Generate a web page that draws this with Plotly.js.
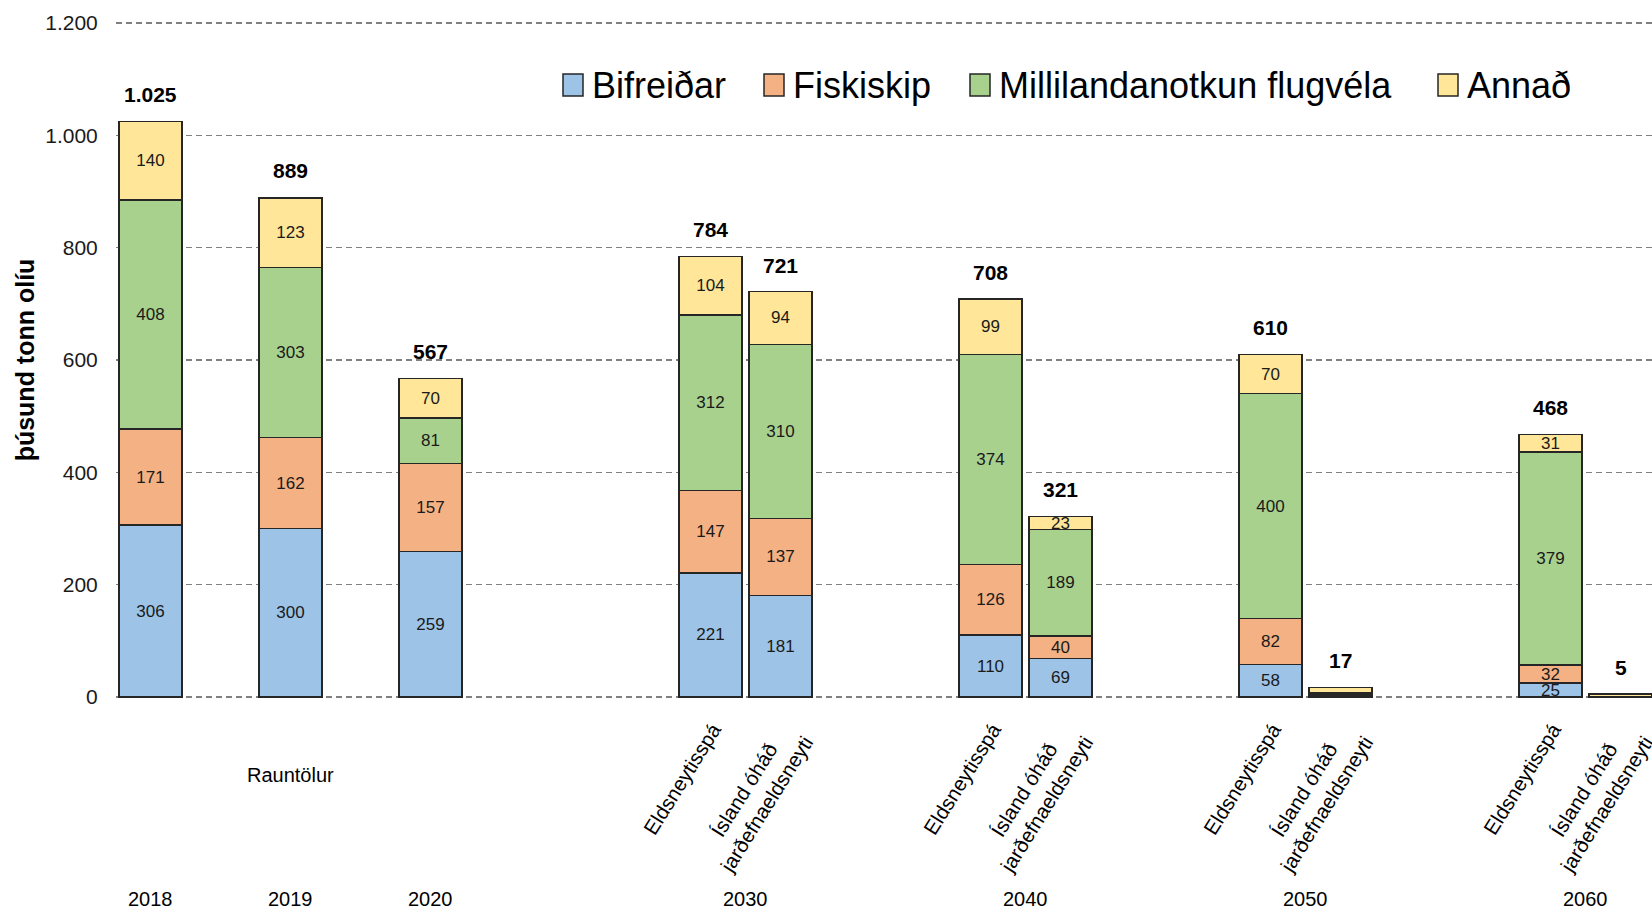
<!DOCTYPE html>
<html><head><meta charset="utf-8">
<script src="https://cdn.plot.ly/plotly-3.0.1.min.js"></script>
<style>html,body{margin:0;padding:0;background:#fff;} #chart{width:1652px;height:914px;}</style>
</head><body><div id="chart"></div>
<script>
// ---------- data ----------
const years = ['2018','2019','2020','2030','2030','2040','2040','2050','2050','2060','2060'];
const scenarios = ['Rauntölur','Rauntölur','Rauntölur',
  'Eldsneytisspá','Ísland óháð<br>jarðefnaeldsneyti',
  'Eldsneytisspá','Ísland óháð<br>jarðefnaeldsneyti',
  'Eldsneytisspá','Ísland óháð<br>jarðefnaeldsneyti',
  'Eldsneytisspá','Ísland óháð<br>jarðefnaeldsneyti'];
const seriesNames = ['Bifreiðar','Fiskiskip','Millilandanotkun flugvéla','Annað'];
const bifreidar = [306,300,259,221,181,110,69,58,3,25,0];
const fiskiskip = [171,162,157,147,137,126,40,82,2,32,0];
const flugvelar = [408,303,81,312,310,374,189,400,3,379,0];
const annad     = [140,123,70,104,94,99,23,70,9,31,5];
const totals    = [1025,889,567,784,721,708,321,610,17,468,5];
const yTitle = 'þúsund tonn olíu';

// ---------- styling / layout ----------
const FONT = 'Liberation Sans, Arial, sans-serif';
const colors = ['#9DC3E6','#F4B183','#A9D18E','#FFE699'];
const W = 1652, H = 914, ML = 116, MT = 21, MB = 215;
const PW = W - ML, PH = H - MT - MB;
const px2x = p => (p - ML) / PW;
const py2y = p => (H - MB - p) / PH;

// slot on the category axis: measured data every other slot, scenario pairs in groups of four
const slots = years.map((y, i) => i < 3 ? 2 * i : 8 + 4 * Math.floor((i - 3) / 2) + ((i - 3) % 2));

const seriesValues = [bifreidar, fiskiskip, flugvelar, annad];
const fmt = n => String(n).replace(/\B(?=(\d{3})+(?!\d))/g, '.');

const traces = seriesValues.map((vals, k) => ({
  type: 'bar', name: seriesNames[k], x: slots, y: vals, width: 0.9,
  marker: {color: colors[k], line: {color: '#262626', width: 1.5}},
  text: vals.map((v, i) => totals[i] >= 50 ? String(v) : ''),
  textposition: 'inside', insidetextanchor: 'middle', textangle: 0, constraintext: 'none',
  textfont: {family: FONT, size: 17, color: '#1a1a1a'},
  hoverinfo: 'skip', showlegend: false
}));

const annotations = [];
// totals above bars
totals.forEach((t, i) => annotations.push({
  x: slots[i], y: t, xref: 'x', yref: 'y', text: '<b>' + fmt(t) + '</b>', showarrow: false,
  yanchor: 'middle', yshift: 27, font: {family: FONT, size: 21, color: '#000'}
}));
// year labels (one per group)
const uniqYears = [...new Set(years)];
uniqYears.forEach(y => {
  const s = slots.filter((_, i) => years[i] === y);
  const c = s.reduce((a, b) => a + b, 0) / s.length;
  annotations.push({x: c, y: py2y(899), xref: 'x', yref: 'paper', text: y, showarrow: false,
    yanchor: 'middle', font: {family: FONT, size: 20, color: '#000'}});
});
// scenario labels
const rauntIdx = scenarios.map((s, i) => s === 'Rauntölur' ? slots[i] : null).filter(v => v !== null);
annotations.push({x: rauntIdx.reduce((a, b) => a + b, 0) / rauntIdx.length, y: py2y(775), xref: 'x', yref: 'paper',
  text: 'Rauntölur', showarrow: false, yanchor: 'middle', font: {family: FONT, size: 20, color: '#000'}});
scenarios.forEach((s, i) => {
  if (s === 'Rauntölur') return;
  const isE = s === 'Eldsneytisspá';
  annotations.push({x: slots[i] + (isE ? -0.4 : -0.36), y: py2y(isE ? 779 : 797), xref: 'x', yref: 'paper',
    text: s, showarrow: false, textangle: -58, xanchor: 'center', yanchor: 'middle',
    font: {family: FONT, size: 20.5, color: '#000'}});
});
// custom legend
const legendBoxX = [563, 764, 970, 1438];
const shapes = [];
seriesNames.forEach((n, k) => {
  shapes.push({type: 'rect', xref: 'paper', yref: 'paper',
    x0: px2x(legendBoxX[k]), x1: px2x(legendBoxX[k] + 20), y0: py2y(96), y1: py2y(74),
    fillcolor: colors[k], line: {color: '#262626', width: 1.5}});
  annotations.push({x: px2x(legendBoxX[k] + 27), y: py2y(86), xref: 'paper', yref: 'paper', text: n,
    showarrow: false, xanchor: 'left', yanchor: 'middle', font: {family: FONT, size: 36, color: '#000'}});
});

const layout = {
  width: W, height: H, margin: {l: ML, r: 0, t: MT, b: MB, pad: 0},
  paper_bgcolor: '#fff', plot_bgcolor: '#fff', barmode: 'stack', separators: ',.',
  showlegend: false, font: {family: FONT, color: '#1a1a1a'},
  xaxis: {range: [-0.493, 21.45], showticklabels: false, showgrid: false, zeroline: false, showline: false, ticks: ''},
  yaxis: {range: [-3.5, 1203.5], dtick: 200, tick0: 0, tickformat: ',', showgrid: true, gridcolor: '#808080', gridwidth: 1.5,
    griddash: '6px,4px', zeroline: false, showline: false, ticks: 'outside', ticklen: 13, tickcolor: 'rgba(0,0,0,0)',
    tickfont: {family: FONT, size: 21, color: '#1a1a1a'}, automargin: false,
    title: {text: yTitle, standoff: 3, font: {family: FONT, size: 25, weight: 'bold', color: '#000'}}},
  annotations: annotations, shapes: shapes
};
Plotly.newPlot('chart', traces, layout, {staticPlot: true, displayModeBar: false});
</script></body></html>
